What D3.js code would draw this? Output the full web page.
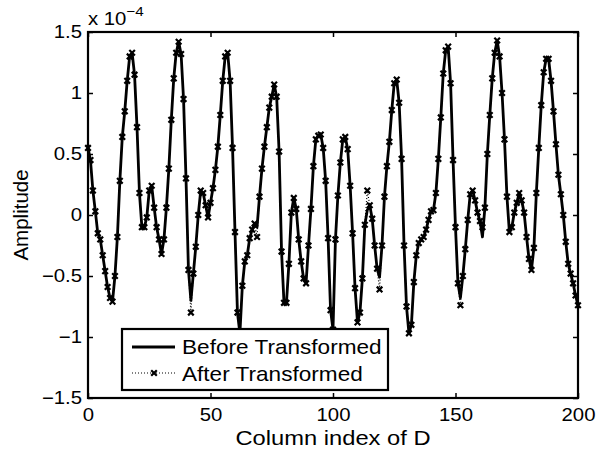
<!DOCTYPE html>
<html><head><meta charset="utf-8">
<script src="https://cdn.jsdelivr.net/npm/d3@7/dist/d3.min.js"></script>
<style>body{margin:0;background:#fff}svg{display:block}text{font-family:"Liberation Sans",Arial,sans-serif;fill:#000}</style>
</head><body><svg id="c" width="597" height="452"></svg>
<script>
// values in units of 1e-4
const beforeE4 = [0.55,0.45,0.2,0.03,-0.15,-0.2,-0.33,-0.46,-0.59,-0.68,
-0.71,-0.5,-0.18,0.28,0.64,0.85,1.1,1.3,1.33,1.15,
0.72,0.18,-0.1,-0.1,-0.02,0.2,0.24,0.06,-0.1,-0.2,
-0.32,-0.2,0.06,0.38,0.78,1.12,1.33,1.42,1.32,0.95,
0.3,-0.45,-0.7,-0.48,-0.26,0.0,0.2,0.18,0.08,-0.02,
0.1,0.22,0.37,0.56,0.82,1.1,1.3,1.33,1.1,0.55,
-0.14,-0.8,-0.97,-0.58,-0.38,-0.33,-0.19,-0.12,-0.07,-0.1,
0.15,0.38,0.56,0.72,0.88,0.97,1.07,0.97,0.52,-0.3,
-0.72,-0.72,-0.4,0.02,0.14,0.05,-0.2,-0.38,-0.52,-0.56,
-0.25,0.05,0.4,0.62,0.65,0.66,0.55,0.28,-0.19,-0.78,
-0.94,-0.2,0.16,0.43,0.62,0.64,0.54,0.24,-0.15,-0.6,
-0.88,-0.8,-0.52,-0.08,0.04,0.08,-0.03,-0.25,-0.44,-0.51,
-0.25,0.15,0.4,0.6,0.86,1.08,1.11,0.92,0.46,-0.25,
-0.75,-0.97,-0.9,-0.55,-0.33,-0.23,-0.2,-0.18,-0.12,-0.04,
0.03,0.04,0.18,0.46,0.8,1.16,1.35,1.38,1.08,0.45,
-0.1,-0.56,-0.68,-0.5,-0.28,-0.04,0.17,0.2,0.12,0.02,
-0.05,-0.18,0.06,0.5,0.82,1.12,1.33,1.43,1.3,1.0,
0.62,0.15,-0.14,-0.1,0.02,0.1,0.18,0.12,0.02,-0.18,
-0.36,-0.45,-0.27,0.18,0.55,0.9,1.17,1.28,1.28,1.1,
0.85,0.58,0.33,0.17,0.0,-0.22,-0.4,-0.48,-0.56,-0.66,
-0.74];
const afterE4 = [0.55,0.45,0.2,0.03,-0.15,-0.2,-0.33,-0.46,-0.59,-0.68,
-0.71,-0.5,-0.18,0.28,0.64,0.85,1.1,1.3,1.33,1.15,
0.72,0.18,-0.1,-0.1,-0.02,0.2,0.24,0.06,-0.1,-0.2,
-0.32,-0.2,0.06,0.38,0.78,1.12,1.33,1.42,1.32,0.95,
0.3,-0.45,-0.8,-0.48,-0.26,0.0,0.2,0.18,0.08,-0.02,
0.1,0.22,0.37,0.56,0.82,1.1,1.3,1.33,1.1,0.55,
-0.14,-0.8,-0.97,-0.58,-0.38,-0.33,-0.19,-0.12,-0.07,-0.18,
0.15,0.38,0.56,0.72,0.88,0.97,1.07,0.97,0.52,-0.3,
-0.72,-0.72,-0.4,0.02,0.14,0.05,-0.2,-0.38,-0.52,-0.56,
-0.25,0.05,0.4,0.62,0.65,0.66,0.55,0.28,-0.19,-0.78,
-0.94,-0.2,0.16,0.43,0.62,0.64,0.54,0.24,-0.15,-0.6,
-0.88,-0.8,-0.52,-0.08,0.2,0.08,-0.03,-0.25,-0.44,-0.61,
-0.25,0.15,0.4,0.6,0.86,1.08,1.11,0.92,0.46,-0.25,
-0.75,-0.97,-0.9,-0.55,-0.33,-0.23,-0.2,-0.18,-0.12,-0.04,
0.03,0.04,0.18,0.46,0.8,1.16,1.35,1.38,1.08,0.45,
-0.1,-0.56,-0.74,-0.5,-0.28,-0.04,0.17,0.2,0.12,0.02,
-0.05,-0.1,0.06,0.5,0.82,1.12,1.33,1.43,1.3,1.0,
0.62,0.15,-0.14,-0.1,0.02,0.1,0.18,0.12,0.02,-0.18,
-0.36,-0.45,-0.27,0.18,0.55,0.9,1.17,1.28,1.28,1.1,
0.85,0.58,0.33,0.17,0.0,-0.22,-0.4,-0.48,-0.56,-0.66,
-0.74];
const xTicks = [0,50,100,150,200];
const yTicks = [-1.5,-1,-0.5,0,0.5,1,1.5];
const yTickLabels = ["\u22121.5","\u22121","\u22120.5","0","0.5","1","1.5"];
const seriesNames = ["Before Transformed","After Transformed"];
const xLabel = "Column index of D", yLabel = "Amplitude";

const SX = 1.13; // horizontal stretch of the reference text
const svg = d3.select("#c");
const L=88,R=578,T=32,B=398;
const x = d3.scaleLinear().domain([0,200]).range([L,R]);
const y = d3.scaleLinear().domain([-1.5,1.5]).range([B,T]);
const idx = beforeE4.map((d,i)=>i);

function style(g){g.select(".domain").remove();g.selectAll("line").attr("stroke","#000").attr("stroke-width",1.5);
  g.selectAll("text").attr("font-size",18).attr("font-family","Liberation Sans, Arial, sans-serif")
   .each(function(){const t=d3.select(this);const xx=+t.attr("x")||0;t.attr("x",xx/SX).attr("transform",`scale(${SX},1)`);});}
svg.append("g").attr("transform",`translate(0,${B})`).call(d3.axisBottom(x).tickValues(xTicks).tickSize(-5).tickPadding(10)).call(style);
svg.append("g").attr("transform",`translate(0,${T})`).call(d3.axisTop(x).tickValues(xTicks).tickSize(-5).tickFormat("")).call(style);
svg.append("g").attr("transform",`translate(${L},0)`).call(d3.axisLeft(y).tickValues(yTicks).tickSize(-5).tickPadding(6).tickFormat((d,i)=>yTickLabels[i])).call(style);
svg.append("g").attr("transform",`translate(${R},0)`).call(d3.axisRight(y).tickValues(yTicks).tickSize(-5).tickFormat("")).call(style);

const line = (arr)=>d3.line().x(i=>x(i)).y(i=>y(arr[i]))(idx);
svg.append("path").attr("d",line(afterE4)).attr("fill","none").attr("stroke","#000").attr("stroke-width",1.2).attr("stroke-dasharray","1,2");
svg.append("path").attr("d",line(beforeE4)).attr("fill","none").attr("stroke","#000").attr("stroke-width",2.8).attr("stroke-linejoin","round");
const mk = "M-2.8,-2.8L2.8,2.8M-2.8,2.8L2.8,-2.8";
svg.append("g").selectAll("path").data(idx).join("path")
  .attr("d",mk).attr("transform",i=>`translate(${x(i)},${y(afterE4[i])})`)
  .attr("stroke","#000").attr("stroke-width",2.2).attr("fill","none");

svg.append("rect").attr("x",L).attr("y",T).attr("width",R-L).attr("height",B-T).attr("fill","none").attr("stroke","#000").attr("stroke-width",2.2);

function stext(px,py,size,str,anchor){
  return svg.append("text").attr("transform",`translate(${px},${py}) scale(${SX},1)`).attr("font-size",size).attr("text-anchor",anchor||"start").text(str);
}
// exponent
const ex = svg.append("text").attr("transform",`translate(${L},25) scale(${SX},1)`).attr("font-size",18);
ex.append("tspan").text("x 10");
ex.append("tspan").attr("dy",-9).attr("font-size",13.5).text("\u22124");

// labels
stext((L+R)/2,445,21,xLabel,"middle");
svg.append("text").attr("transform",`translate(28,${(T+B)/2}) rotate(-90)`).attr("text-anchor","middle").attr("font-size",20.5).text(yLabel);

// legend
const lg = svg.append("g");
lg.append("rect").attr("x",122).attr("y",329).attr("width",266).attr("height",61).attr("fill","#fff").attr("stroke","#000").attr("stroke-width",2.2);
lg.append("line").attr("x1",132).attr("x2",175).attr("y1",347).attr("y2",347).attr("stroke","#000").attr("stroke-width",2.8);
lg.append("line").attr("x1",132).attr("x2",175).attr("y1",373).attr("y2",373).attr("stroke","#000").attr("stroke-width",1.2).attr("stroke-dasharray","1,2");
lg.append("path").attr("d",mk).attr("transform","translate(154,373)").attr("stroke","#000").attr("stroke-width",2.2);
svg.append("text").attr("transform",`translate(182,354) scale(${SX},1)`).attr("font-size",20).text(seriesNames[0]);
svg.append("text").attr("transform",`translate(182,381) scale(${SX},1)`).attr("font-size",20).text(seriesNames[1]);
</script></body></html>
